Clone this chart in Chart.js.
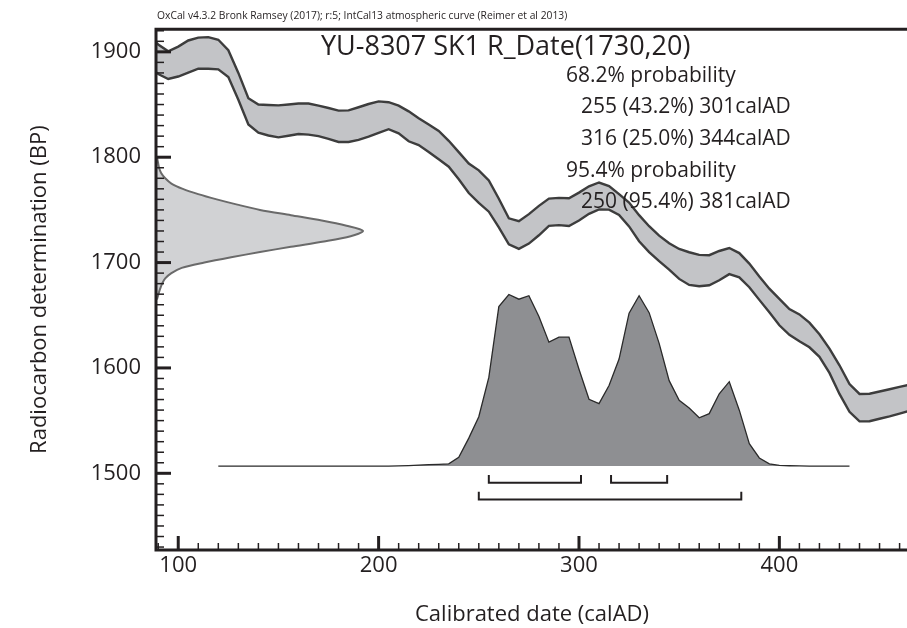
<!DOCTYPE html>
<html>
<head>
<meta charset="utf-8">
<script src="https://cdn.jsdelivr.net/npm/chart.js@4"></script>
<style>
  html, body { margin: 0; padding: 0; background: #fff; }
</style>
</head>
<body>
<canvas id="oxcal" width="907" height="628"></canvas>
<script>
// IntCal13 band (upper / lower edge, BP)
const curveYears = [85, 90, 95, 100, 105, 110, 115, 120, 125, 130, 135, 140, 145, 150, 155, 160, 165, 170, 175, 180,
    185, 190, 195, 200, 205, 210, 215, 220, 225, 230, 235, 240, 245, 250, 255, 260, 265, 270, 275, 280,
    285, 290, 295, 300, 305, 310, 315, 320, 325, 330, 335, 340, 345, 350, 355, 360, 365, 370, 375, 380,
    385, 390, 395, 400, 405, 410, 415, 420, 425, 430, 435, 440, 445, 450, 455, 460, 465];
const curveUpper = [1915.6, 1907, 1900.5, 1905, 1910.8, 1913.5, 1914, 1911.5, 1901.5, 1880, 1856, 1850, 1849.6, 1849.2, 1850, 1851, 1851, 1849, 1846.7, 1844.2,
    1844.5, 1847.4, 1850.5, 1853, 1852.2, 1849, 1843.5, 1837, 1831, 1825, 1815.6, 1804.8, 1794, 1787.5, 1778, 1760.6, 1742, 1739.2, 1746, 1753.8,
    1760.7, 1761.4, 1761.1, 1766.4, 1772.4, 1776, 1772.6, 1765, 1757, 1745, 1734.5, 1725.5, 1718.3, 1712.9, 1709.8, 1707.3, 1707, 1711, 1713.8, 1709,
    1699, 1686.7, 1675.2, 1665.5, 1655.8, 1650.8, 1643, 1632, 1618.4, 1602.5, 1584.7, 1575.3, 1575.5, 1577.6, 1579.8, 1582, 1584.2];
const curveLower = [1886, 1879, 1874.2, 1876.6, 1880.3, 1884, 1884, 1883.4, 1876.1, 1854.6, 1831, 1823.2, 1820.6, 1818.8, 1820.4, 1822, 1821.4, 1820, 1817.4, 1814.5,
    1814.5, 1816.4, 1819.5, 1823.1, 1826.6, 1822.6, 1815.1, 1811.5, 1805, 1798, 1791, 1779, 1766, 1756.6, 1748.3, 1733.5, 1717.3, 1713, 1718, 1725.9,
    1734.8, 1735.5, 1734.7, 1740, 1746.3, 1750.5, 1750.3, 1745.2, 1734.3, 1720.2, 1709.9, 1701.3, 1693.3, 1684.5, 1678.8, 1677.5, 1678.5, 1683.2, 1689, 1686,
    1676.6, 1664.6, 1652.8, 1640.5, 1631.5, 1625.4, 1619.6, 1610.5, 1595.3, 1575.3, 1558.4, 1549.3, 1549.4, 1551.8, 1554.1, 1556.7, 1559.2];

// radiocarbon measurement 1730 +/- 20, relative probability
const rcBP = [1800, 1795, 1790, 1785, 1780, 1775, 1770, 1765, 1760, 1755, 1750, 1745, 1740, 1735, 1730,
    1725, 1720, 1715, 1710, 1705, 1700, 1695, 1690, 1685, 1680, 1675, 1670, 1665];
const rcProb = [0, 0.005, 0.01, 0.02, 0.04, 0.07, 0.125, 0.2, 0.29, 0.39, 0.5, 0.65, 0.8, 0.92, 1.0,
    0.94, 0.81, 0.65, 0.5, 0.36, 0.23, 0.12, 0.07, 0.04, 0.025, 0.015, 0.007, 0];

// calibrated date, relative probability
const calYears = [120, 125, 130, 135, 140, 145, 150, 155, 160, 165, 170, 175, 180, 185, 190, 195, 200, 205, 210, 215,
    220, 225, 230, 235, 240, 245, 250, 255, 260, 265, 270, 275, 280, 285, 290, 295, 300, 305, 310, 315,
    320, 325, 330, 335, 340, 345, 350, 355, 360, 365, 370, 375, 380, 385, 390, 395, 400, 405, 410, 415,
    420, 425, 430, 435];
const calProb = [0, 0, 0, 0, 0, 0, 0, 0, 0, 0, 0, 0, 0, 0, 0, 0, 0, 0, 0.001, 0.003,
    0.006, 0.008, 0.01, 0.013, 0.051, 0.162, 0.286, 0.514, 0.924, 0.994, 0.967, 0.987, 0.867, 0.718, 0.747, 0.747, 0.561, 0.387, 0.362, 0.467,
    0.62, 0.886, 0.987, 0.889, 0.711, 0.495, 0.381, 0.337, 0.28, 0.304, 0.419, 0.489, 0.324, 0.13, 0.047, 0.013, 0.004, 0.002, 0.001, 0,
    0, 0, 0, 0];

// highest posterior density ranges
const range68From = [255, 316];
const range68To = [301, 344];
const range68Pct = ["43.2", "25.0"];
const range95From = [250];
const range95To = [381];
const range95Pct = ["95.4"];

const xTicks = [100, 200, 300, 400];
const yTicks = [1500, 1600, 1700, 1800, 1900];

const INK = "#231f20";
const FONT = "'Open Sans', 'Noto Sans', sans-serif";

function pts(xs, ys) {
    return xs.map((x, i) => ({ x: x, y: ys[i] }));
}

// brackets under the calibrated distribution (levels in probability units)
function bracket(from, to, level) {
    return [
        { x: from, y: level + 0.046 },
        { x: from, y: level },
        { x: to, y: level },
        { x: to, y: level + 0.046 },
    ];
}

const bracketSets = [];
range68From.forEach((f, i) => bracketSets.push(bracket(f, range68To[i], -0.097)));
range95From.forEach((f, i) => bracketSets.push(bracket(f, range95To[i], -0.194)));

// frame, inward ticks and the text block
const oxcalFrame = {
    id: "oxcalFrame",
    afterDatasetsDraw(chart) {
        const { ctx, chartArea: a, scales } = chart;
        const sx = scales.x, sy = scales.y;
        ctx.save();
        ctx.strokeStyle = INK;
        ctx.lineCap = "butt";

        // axis lines
        ctx.lineWidth = 3;
        ctx.beginPath();
        ctx.moveTo(a.right, a.top);
        ctx.lineTo(a.left - 1, a.top);
        ctx.lineTo(a.left - 1, a.bottom);
        ctx.lineTo(a.right, a.bottom);
        ctx.stroke();

        // y ticks, minor every 10 BP
        for (let v = 1430; v <= 1920; v += 10) {
            const y = sy.getPixelForValue(v);
            const major = v % 100 === 0;
            ctx.lineWidth = major ? 3 : 1.5;
            ctx.beginPath();
            ctx.moveTo(a.left, y);
            ctx.lineTo(a.left + (major ? 14 : 7), y);
            ctx.stroke();
        }
        // x ticks, minor every 10 years
        for (let v = 90; v <= 460; v += 10) {
            const x = sx.getPixelForValue(v);
            const major = v % 100 === 0;
            ctx.lineWidth = major ? 3 : 1.5;
            ctx.beginPath();
            ctx.moveTo(x, a.bottom);
            ctx.lineTo(x, a.bottom - (major ? 14 : 7));
            ctx.stroke();
        }

        // texts
        ctx.fillStyle = INK;
        ctx.textBaseline = "alphabetic";
        ctx.textAlign = "left";
        ctx.font = "10.3px " + FONT;
        ctx.fillText("OxCal v4.3.2 Bronk Ramsey (2017); r:5; IntCal13 atmospheric curve (Reimer et al 2013)", a.left, 18.5);

        ctx.font = "27px " + FONT;
        ctx.fillText("YU-8307 SK1 R_Date(1730,20)", 321, 55);

        ctx.font = "21px " + FONT;
        let y = 81.5;
        ctx.fillText("68.2% probability", 566, y);
        range68From.forEach((f, i) => {
            y += 31.7;
            ctx.fillText(f + " (" + range68Pct[i] + "%) " + range68To[i] + "calAD", 581, y);
        });
        y += 31.7;
        ctx.fillText("95.4% probability", 566, y);
        range95From.forEach((f, i) => {
            y += 31.7;
            ctx.fillText(f + " (" + range95Pct[i] + "%) " + range95To[i] + "calAD", 581, y);
        });
        ctx.restore();
    }
};

const ctx = document.getElementById("oxcal").getContext("2d");
new Chart(ctx, {
    type: "line",
    data: {
        datasets: [
            {
                label: "IntCal13 upper",
                data: pts(curveYears, curveUpper),
                borderColor: "#3d3d3d",
                borderWidth: 2.4,
                fill: false,
            },
            {
                label: "IntCal13 lower",
                data: pts(curveYears, curveLower),
                borderColor: "#3d3d3d",
                borderWidth: 2.4,
                backgroundColor: "#c3c4c7",
                fill: "-1",
            },
            {
                label: "R_Date",
                data: pts(rcProb, rcBP),
                indexAxis: "y",
                xAxisID: "xd",
                yAxisID: "y",
                borderColor: "#6a6a6a",
                borderWidth: 2,
                backgroundColor: "#d1d2d4",
                fill: { value: 0 },
                tension: 0.3,
            },
            {
                label: "Calibrated",
                data: pts(calYears, calProb),
                xAxisID: "x",
                yAxisID: "yp",
                borderColor: "#2a2a2a",
                borderWidth: 1.3,
                backgroundColor: "#8e8f92",
                fill: { value: 0 },
            },
            ...bracketSets.map((b, i) => ({
                label: "range " + i,
                data: b,
                xAxisID: "x",
                yAxisID: "yp",
                borderColor: INK,
                borderWidth: 2,
                fill: false,
            })),
        ]
    },
    options: {
        responsive: false,
        animation: false,
        layout: { padding: { top: 22, left: 0, right: 0, bottom: 0 } },
        elements: { point: { radius: 0 }, line: { tension: 0 } },
        plugins: { legend: { display: false }, tooltip: { enabled: false } },
        scales: {
            x: {
                type: "linear",
                position: "bottom",
                min: 89.4,
                max: 463.7,
                afterBuildTicks: s => { s.ticks = xTicks.map(v => ({ value: v })); },
                afterFit: s => { s.height = 78; },
                grid: { display: false, drawTicks: false },
                border: { display: false },
                ticks: { padding: 3, color: INK, font: { family: FONT, size: 22 }, maxRotation: 0, callback: v => String(v) },
                title: {
                    display: true,
                    text: "Calibrated date (calAD)",
                    color: INK,
                    font: { family: FONT, size: 22 },
                    padding: { top: 0, bottom: 0 },
                },
            },
            y: {
                type: "linear",
                position: "left",
                min: 1427.2,
                max: 1921.5,
                afterBuildTicks: s => { s.ticks = yTicks.map(v => ({ value: v })); },
                afterFit: s => { s.width = 157; },
                grid: { display: false, drawTicks: false },
                border: { display: false },
                ticks: { padding: 16, color: INK, font: { family: FONT, size: 22 }, callback: v => String(v) },
                title: {
                    display: true,
                    text: "Radiocarbon determination (BP)",
                    color: INK,
                    font: { family: FONT, size: 22 },
                    padding: { top: 27, bottom: 0 },
                },
            },
            xd: { type: "linear", axis: "x", display: false, min: 0, max: 3.641 },
            yp: { type: "linear", axis: "y", display: false, min: -0.486, max: 2.531 },
        }
    },
    plugins: [oxcalFrame],
});
</script>
</body>
</html>
